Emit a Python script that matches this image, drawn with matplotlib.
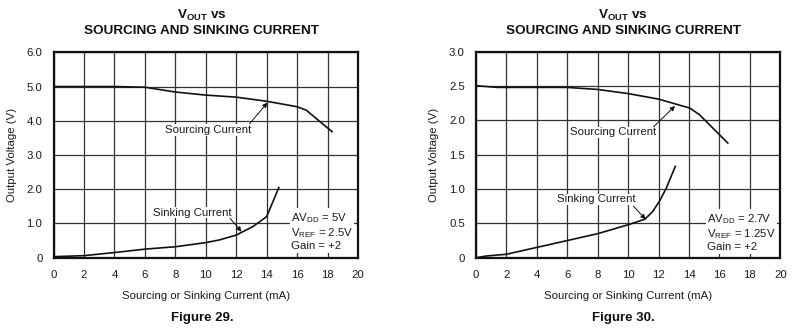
import matplotlib
matplotlib.use("Agg")
import matplotlib.pyplot as plt

plt.rcParams["font.family"] = ["Liberation Sans", "DejaVu Sans"]
plt.rcParams["mathtext.fontset"] = "custom"
plt.rcParams["mathtext.rm"] = "Liberation Sans"
plt.rcParams["mathtext.it"] = "Liberation Sans"
plt.rcParams["mathtext.bf"] = "Liberation Sans:bold"

# Figure 29: AVDD = 5 V, VREF = 2.5 V
src29_ma = [0, 2, 4, 6, 8, 10, 12, 14, 16, 16.6, 18.3]
src29_v = [5.0, 5.0, 5.0, 4.98, 4.84, 4.75, 4.69, 4.57, 4.41, 4.31, 3.68]
snk29_ma = [0, 2, 4, 6, 8, 10, 10.9, 12, 13.1, 14, 14.8]
snk29_v = [0.03, 0.06, 0.15, 0.25, 0.32, 0.44, 0.52, 0.66, 0.91, 1.20, 2.05]

# Figure 30: AVDD = 2.7 V, VREF = 1.25 V
src30_ma = [0, 1.4, 6, 8, 10, 12, 13.4, 14.05, 14.7, 16.55]
src30_v = [2.505, 2.48, 2.48, 2.45, 2.39, 2.31, 2.22, 2.18, 2.08, 1.67]
snk30_ma = [0, 0.7, 2, 4, 6, 8, 10, 11.1, 11.6, 12.05, 12.5, 13.1]
snk30_v = [0.0, 0.025, 0.05, 0.15, 0.25, 0.35, 0.48, 0.56, 0.67, 0.82, 1.01, 1.33]

x_ticks = [0, 2, 4, 6, 8, 10, 12, 14, 16, 18, 20]
y29_ticks = [0, 1, 2, 3, 4, 5, 6]
y29_labels = ["0", "1.0", "2.0", "3.0", "4.0", "5.0", "6.0"]
y30_ticks = [0, 0.5, 1.0, 1.5, 2.0, 2.5, 3.0]
y30_labels = ["0", "0.5", "1.0", "1.5", "2.0", "2.5", "3.0"]

W, H = 796, 335
FS = 8.2
fig = plt.figure(figsize=(W / 100, H / 100), dpi=100)
TXT = "#1a1a1a"
ARROW = dict(arrowstyle="-|>", color="#111111", lw=0.7,
             mutation_scale=7, shrinkA=0, shrinkB=0)
BOX = dict(boxstyle="square,pad=0.05", fc="white", ec="none")


def make_axes(x0, x1, y_top, y_bot):
    return fig.add_axes([x0 / W, (H - y_bot) / H, (x1 - x0) / W, (y_bot - y_top) / H])


def style(ax, ymax, yticks, ylabels):
    ax.set_xlim(0, 20)
    ax.set_ylim(0, ymax)
    ax.set_xticks(x_ticks)
    ax.set_xticklabels([str(t) for t in x_ticks])
    ax.set_yticks(yticks)
    ax.set_yticklabels(ylabels)
    ax.tick_params(length=0, labelsize=FS, colors=TXT)
    ax.tick_params(axis="x", pad=9)
    ax.tick_params(axis="y", pad=8)
    ax.grid(True, color="#333333", linewidth=0.9)
    ax.set_axisbelow(True)
    for s in ax.spines.values():
        s.set_linewidth(1.6)
        s.set_color("#111111")
    ax.set_xlabel("Sourcing or Sinking Current (mA)", fontsize=FS, color=TXT, labelpad=8)
    ax.set_ylabel("Output Voltage (V)", fontsize=FS, color=TXT, labelpad=7)


def panel(ax, src_x, src_y, snk_x, snk_y, ymax, yticks, ylabels):
    style(ax, ymax, yticks, ylabels)
    ax.plot(src_x, src_y, color="#111111", lw=1.2, solid_joinstyle="round")
    ax.plot(snk_x, snk_y, color="#111111", lw=1.2, solid_joinstyle="round")


def label(ax, x, y, text):
    ax.text(x, y, text, fontsize=FS, color=TXT, va="center", ha="left", bbox=BOX)


def conditions(ax, x, y, text):
    ax.text(x, y, text, fontsize=FS, color=TXT, va="center", ha="left", linespacing=1.15,
            bbox=dict(boxstyle="square,pad=0.1", fc="white", ec="none"))


# Left panel
ax1 = make_axes(53.5, 358, 52.3, 257.7)
panel(ax1, src29_ma, src29_v, snk29_ma, snk29_v, 6, y29_ticks, y29_labels)
ax1.annotate("", xy=(14.05, 4.53), xytext=(12.8, 3.87), arrowprops=ARROW)
label(ax1, 7.3, 3.73, "Sourcing Current")
ax1.annotate("", xy=(12.35, 0.76), xytext=(11.6, 1.15), arrowprops=ARROW)
label(ax1, 6.55, 1.31, "Sinking Current")
conditions(ax1, 15.6, 0.77,
           "AV$_{\\mathregular{DD}}$ = 5V\nV$_{\\mathregular{REF}}$ = 2.5V\nGain = +2")

# Right panel
ax2 = make_axes(476, 780.3, 51.7, 257.7)
panel(ax2, src30_ma, src30_v, snk30_ma, snk30_v, 3, y30_ticks, y30_labels)
ax2.annotate("", xy=(13.08, 2.21), xytext=(11.6, 1.89), arrowprops=ARROW)
label(ax2, 6.15, 1.826, "Sourcing Current")
ax2.annotate("", xy=(11.15, 0.56), xytext=(10.35, 0.75), arrowprops=ARROW)
label(ax2, 5.3, 0.85, "Sinking Current")
conditions(ax2, 15.2, 0.37,
           "AV$_{\\mathregular{DD}}$ = 2.7V\nV$_{\\mathregular{REF}}$ = 1.25V\nGain = +2")

# Titles and figure captions
for cx, cap in [(202, "Figure 29."), (623, "Figure 30.")]:
    fig.text(cx / W, 1 - 15 / H, "$\\mathbf{V_{OUT}}$ vs", fontsize=9.7, fontweight="bold",
             ha="center", va="center", color="#111111")
    fig.text(cx / W, 1 - 31.5 / H, "SOURCING AND SINKING CURRENT", fontsize=9.7,
             fontweight="bold", ha="center", va="center", color="#111111")
    fig.text(cx / W, 1 - 318.5 / H, cap, fontsize=9.5, fontweight="bold",
             ha="center", va="center", color="#111111")

fig.savefig("out.png", dpi=100, facecolor="white")
